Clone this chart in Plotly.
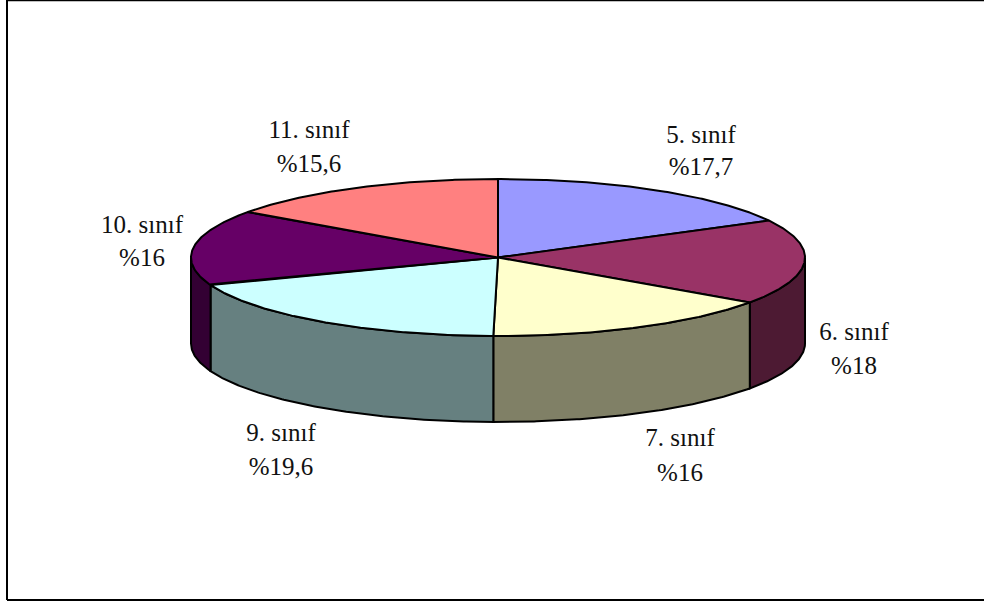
import numpy as np
import plotly.graph_objects as go

categories = ["5. sınıf", "6. sınıf", "7. sınıf", "9. sınıf", "10. sınıf", "11. sınıf"]
values = [17.7, 18, 16, 19.6, 16, 15.6]
percent_labels = ["%17,7", "%18", "%16", "%19,6", "%16", "%15,6"]
top_colors = ["#9999FF", "#993366", "#FFFFCC", "#CCFFFF", "#660066", "#FF8080"]
side_colors = ["#4D4D80", "#4D1A33", "#808066", "#668080", "#330033", "#804040"]

# Pie projection (page pixels)
CX, CY, RX, RY, DEPTH = 498, 257.5, 307, 78.5, 86
label_x = [701, 854, 680, 281, 142, 309]
label_y1 = [137, 334, 440, 435, 227, 132]
label_y2 = [169, 368, 475, 469, 260, 166]


def arc(a0, a1, dz=0.0):
    t = np.radians(np.linspace(a0, a1, max(int(abs(a1 - a0) * 2), 2)))
    return CX + RX * np.sin(t), CY - RY * np.cos(t) + dz


fig = go.Figure()
total = sum(values)
edges = np.concatenate([[0], np.cumsum(values) / total * 360])

# side walls: only the front half of the cylinder is visible
for i in range(len(values)):
    a0, a1 = max(edges[i], 90), min(edges[i + 1], 270)
    if a1 <= a0:
        continue
    xt, yt = arc(a0, a1)
    xb, yb = arc(a1, a0, DEPTH)
    fig.add_trace(go.Scatter(
        x=np.r_[xt, xb, xt[0]], y=np.r_[yt, yb, yt[0]], mode="lines", fill="toself",
        fillcolor=side_colors[i], line=dict(color="black", width=2),
        hoverinfo="skip", showlegend=False))

# top face
for i in range(len(values)):
    xa, ya = arc(edges[i], edges[i + 1])
    fig.add_trace(go.Scatter(
        x=np.r_[CX, xa, CX], y=np.r_[CY, ya, CY], mode="lines", fill="toself",
        fillcolor=top_colors[i], line=dict(color="black", width=2),
        name=categories[i], hoverinfo="name", showlegend=False))

text_font = dict(family="Liberation Serif", size=25, color="#111111")
for xs, ys, txt in [(label_x, label_y1, categories), (label_x, label_y2, percent_labels)]:
    fig.add_trace(go.Scatter(x=xs, y=ys, mode="text", text=txt, textposition="middle center",
                             textfont=text_font, hoverinfo="skip", showlegend=False))

frame = dict(color="black", width=2)
fig.update_layout(
    width=984, height=603, margin=dict(l=0, r=0, t=0, b=0),
    paper_bgcolor="white", plot_bgcolor="white",
    xaxis=dict(range=[0, 984], visible=False, fixedrange=True),
    yaxis=dict(range=[603, 0], visible=False, fixedrange=True),
    shapes=[
        dict(type="line", xref="x", yref="y", x0=7, x1=7, y0=0, y1=600, line=frame),
        dict(type="line", xref="x", yref="y", x0=7, x1=984, y0=600, y1=600, line=frame),
        dict(type="line", xref="x", yref="y", x0=7, x1=984, y0=0.2, y1=0.2, line=frame),
    ],
)
fig.write_html("out.html", config=dict(displayModeBar=False),
               post_script="document.body.style.margin='0';document.body.style.overflow='hidden';")
